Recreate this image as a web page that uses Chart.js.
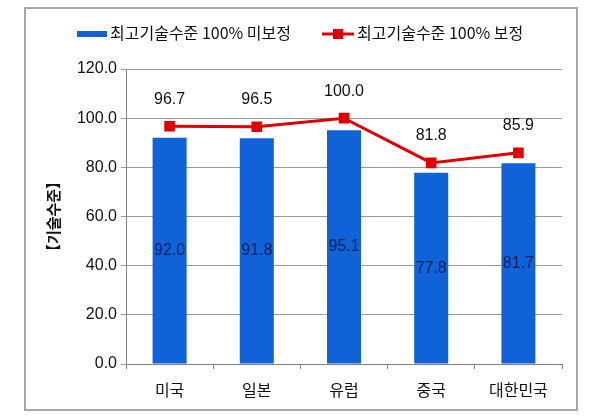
<!DOCTYPE html>
<html>
<head>
<meta charset="utf-8">
<script src="https://cdn.jsdelivr.net/npm/chart.js@4"></script>
<style>
  html, body { margin: 0; padding: 0; background: #fff; }
  #wrap { position: relative; width: 600px; height: 418px; }
</style>
</head>
<body>
<div id="wrap"><canvas id="techChart" width="600" height="418"></canvas></div>
<script>
// 데이터
const countries = ['미국', '일본', '유럽', '중국', '대한민국'];
const uncorrected = [92.0, 91.8, 95.1, 77.8, 81.7];   // 최고기술수준 100% 미보정
const corrected = [96.7, 96.5, 100.0, 81.8, 85.9];     // 최고기술수준 100% 보정
const seriesNames = ['최고기술수준 100% 미보정', '최고기술수준 100% 보정'];
const yTicks = [0, 20, 40, 60, 80, 100, 120];

const BLUE = '#1062d8';
const RED = '#e00000';
const FONT = "'Liberation Sans', 'Noto Sans CJK KR', sans-serif";
const KFONT = "'Noto Sans CJK KR', 'Liberation Sans', sans-serif";

// 바깥 테두리 + 범례
const framePlugin = {
  id: 'frame',
  beforeDraw(chart) {
    const ctx = chart.ctx;
    ctx.save();
    ctx.strokeStyle = '#a8a8a8';
    ctx.lineWidth = 2;
    ctx.strokeRect(25, 8, 552, 402);
    ctx.restore();
  },
  afterDraw(chart) {
    const ctx = chart.ctx;
    ctx.save();
    ctx.font = '16px ' + KFONT;
    ctx.textBaseline = 'middle';
    // 막대 범례
    ctx.fillStyle = BLUE;
    ctx.fillRect(77, 31, 30, 6);
    ctx.fillStyle = '#111';
    ctx.fillText(seriesNames[0], 110, 33);
    // 선 범례
    ctx.strokeStyle = RED;
    ctx.lineWidth = 3;
    ctx.beginPath();
    ctx.moveTo(322, 34);
    ctx.lineTo(354, 34);
    ctx.stroke();
    ctx.fillStyle = RED;
    ctx.fillRect(333, 29, 10, 10);
    ctx.fillStyle = '#111';
    ctx.fillText(seriesNames[1], 357, 33);
    ctx.restore();
  }
};

// 값 표시
const valueLabels = {
  id: 'valueLabels',
  afterDatasetsDraw(chart) {
    const ctx = chart.ctx;
    ctx.save();
    ctx.textAlign = 'center';
    ctx.textBaseline = 'middle';
    chart.getDatasetMeta(0).data.forEach((bar, i) => {
      ctx.font = '16px ' + FONT;
      ctx.fillStyle = '#0b1f5c';
      ctx.fillText(uncorrected[i].toFixed(1), bar.x, (bar.y + bar.base) / 2);
    });
    chart.getDatasetMeta(1).data.forEach((pt, i) => {
      ctx.font = '16px ' + FONT;
      ctx.fillStyle = '#111';
      ctx.fillText(corrected[i].toFixed(1), pt.x, pt.y - 27);
    });
    ctx.restore();
  }
};

new Chart(document.getElementById('techChart'), {
  data: {
    labels: countries,
    datasets: [
      {
        type: 'bar',
        label: seriesNames[0],
        data: uncorrected,
        backgroundColor: BLUE,
        categoryPercentage: 1,
        barPercentage: 0.39,
        order: 1
      },
      {
        type: 'line',
        label: seriesNames[1],
        data: corrected,
        borderColor: RED,
        borderWidth: 3,
        backgroundColor: RED,
        pointStyle: 'rect',
        pointRadius: 7.5,
        pointBorderWidth: 0,
        tension: 0,
        order: 0
      }
    ]
  },
  options: {
    responsive: false,
    animation: false,
    layout: { padding: { left: 0, right: 38, top: 69, bottom: 10 } },
    plugins: {
      legend: { display: false },
      tooltip: { enabled: false }
    },
    scales: {
      x: {
        grid: { offset: true, drawOnChartArea: false, drawTicks: true, tickLength: 5, color: '#808080' },
        border: { color: '#808080', width: 1 },
        ticks: { color: '#111', font: { family: KFONT, size: 16 }, padding: 11 },
        afterFit(scale) { scale.height = 44; }
      },
      y: {
        min: 0,
        max: 120,
        afterBuildTicks(scale) { scale.ticks = yTicks.map(v => ({ value: v })); },
        grid: { color: '#9a9a9a', tickLength: 5 },
        border: { color: '#808080', width: 1 },
        ticks: {
          color: '#111',
          font: { family: FONT, size: 16 },
          padding: 4,
          callback: v => v.toFixed(1)
        },
        title: {
          display: true,
          text: '【기술수준】',
          color: '#111',
          font: { family: KFONT, size: 15, weight: 'bold' },
          padding: { top: 44, bottom: 0 }
        },
        afterFit(scale) { scale.width = 126; }
      }
    }
  },
  plugins: [framePlugin, valueLabels]
});
</script>
</body>
</html>
